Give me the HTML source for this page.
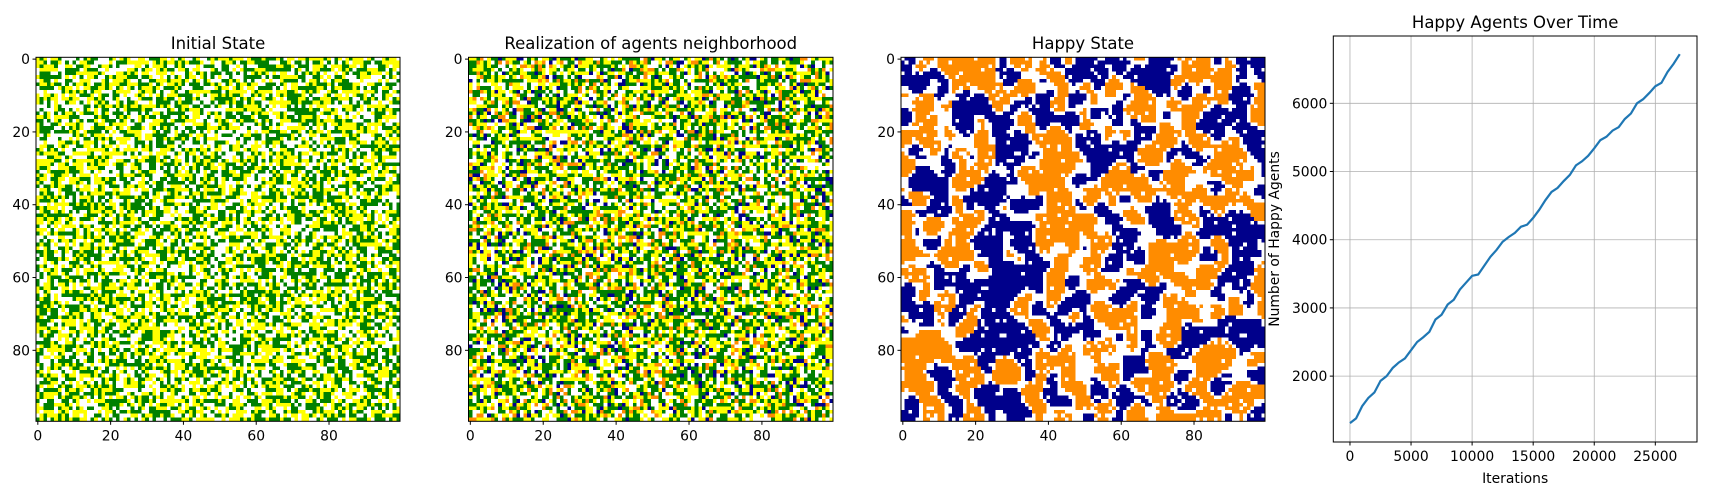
<!DOCTYPE html>
<html><head><meta charset="utf-8">
<style>
html,body{margin:0;padding:0;background:#fff;}
#wrap{position:relative;width:1710px;height:500px;overflow:hidden;font-family:"DejaVu Sans","Liberation Sans",sans-serif;}
canvas{position:absolute;image-rendering:pixelated;}
svg{position:absolute;left:0;top:0;}
</style></head>
<body>
<div id="wrap">
<canvas id="c1" width="100" height="100" style="left:36px;top:57.3px;width:364px;height:364px"></canvas>
<canvas id="c2" width="100" height="100" style="left:468.5px;top:57.3px;width:364.5px;height:364px"></canvas>
<canvas id="c3" width="100" height="100" style="left:901px;top:57.3px;width:364px;height:364px"></canvas>
<svg id="svg" width="1710" height="500"></svg>
</div>
<script>
// Line chart data
const iterations = [0,500,1000,1500,2000,2500,3000,3500,4000,4500,5000,5500,6000,6500,7000,7500,8000,8500,9000,9500,10000,10500,11000,11500,12000,12500,13000,13500,14000,14500,15000,15500,16000,16500,17000,17500,18000,18500,19000,19500,20000,20500,21000,21500,22000,22500,23000,23500,24000,24500,25000,25500,26000,26500,27000];
const happyCounts = [1310,1380,1560,1680,1760,1930,2000,2120,2200,2260,2380,2500,2570,2650,2830,2900,3050,3120,3270,3370,3470,3490,3620,3750,3850,3970,4040,4100,4190,4220,4320,4440,4580,4700,4760,4860,4950,5090,5150,5230,5340,5460,5510,5600,5650,5770,5850,6000,6060,6150,6250,6300,6460,6580,6720];
const xTicks = [0,5000,10000,15000,20000,25000];
const yTicks = [2000,3000,4000,5000,6000];
const gridTicks = [0,20,40,60,80];

const NS="http://www.w3.org/2000/svg";
const svg=document.getElementById('svg');
function mk(tag,attrs,parent){const e=document.createElementNS(NS,tag);for(const k in attrs)e.setAttribute(k,attrs[k]);(parent||svg).appendChild(e);return e;}

// seeded texture generator for grid cells
let seed=12345;function rnd(){seed=(seed*1103515245+12345)&0x7fffffff;return seed/0x7fffffff;}
function paint(id,fn){const c=document.getElementById(id).getContext('2d');for(let r=0;r<100;r++)for(let q=0;q<100;q++){c.fillStyle=fn(r,q);c.fillRect(q,r,1,1);}}
paint('c1',()=>{const v=rnd();return v<0.36?'#008000':v<0.7?'#ffff00':'#ffffff';});
paint('c2',()=>{const v=rnd();return v<0.32?'#008000':v<0.6?'#ffff00':v<0.69?'#ff8c00':v<0.77?'#00008b':'#ffffff';});
let f=[];for(let i=0;i<100;i++){f.push([]);for(let j=0;j<100;j++)f[i].push(rnd()-0.5);}
for(let p=0;p<4;p++){const g=[];for(let i=0;i<100;i++){g.push([]);for(let j=0;j<100;j++){let s=0,n=0;for(let di=-1;di<=1;di++)for(let dj=-1;dj<=1;dj++){const a=i+di,b=j+dj;if(a>=0&&a<100&&b>=0&&b<100){s+=f[a][b];n++;}}g[i].push(s/n);}}f=g;}
const all=[];for(let i=0;i<100;i++)for(let j=0;j<100;j++)all.push(f[i][j]);all.sort((a,b)=>a-b);
const tNavy=all[3600],tOrange=all[6000];
paint('c3',(r,q)=>{const v=f[r][q];if(rnd()<0.07)return '#ffffff';return v>tOrange?'#ff8c00':v<tNavy?'#00008b':'#ffffff';});

// grid panel axes
const panels=[{x:36,w:364,title:'Initial State',n:'initial'},{x:468.5,w:364.5,title:'Realization of agents neighborhood',n:'neighborhood'},{x:901,w:364,title:'Happy State',n:'happy'}];
const top0=57.3,h0=364;
panels.forEach(p=>{
  const fr=mk('rect',{x:p.x,y:top0,width:p.w,height:h0,fill:'none',stroke:'#000','stroke-width':1});
  
  const t=mk('text',{x:p.x+p.w/2,y:49,'text-anchor':'middle','font-size':16.5,fill:'#000'});t.textContent=p.title;
  
  const sx=i=>p.x+(i+0.5)*p.w/100, sy=i=>top0+(i+0.5)*h0/100;
  gridTicks.forEach(v=>{
    mk('line',{x1:sx(v),x2:sx(v),y1:top0+h0,y2:top0+h0+3.5,stroke:'#000'});
    const tx=mk('text',{x:sx(v),y:top0+h0+19,'text-anchor':'middle','font-size':13.9,fill:'#000'});tx.textContent=v;
    
    mk('line',{x1:p.x-3.5,x2:p.x,y1:sy(v),y2:sy(v),stroke:'#000'});
    const ty=mk('text',{x:p.x-6,y:sy(v)+5,'text-anchor':'end','font-size':13.9,fill:'#000'});ty.textContent=v;
    
  });
});

// line chart
const L=1333.3,R=1697,T=36,B=442;
const x0=-1365,x1=28413,y0=1034,y1=6987;
const X=v=>L+(v-x0)/(x1-x0)*(R-L), Y=v=>B-(v-y0)/(y1-y0)*(B-T);
xTicks.forEach(v=>{
  const g=mk('line',{x1:X(v),x2:X(v),y1:T,y2:B,stroke:'#b0b0b0','stroke-width':0.8});
  
  mk('line',{x1:X(v),x2:X(v),y1:B,y2:B+3.5,stroke:'#000'});
  const t=mk('text',{x:X(v),y:B+19,'text-anchor':'middle','font-size':13.9,fill:'#000'});t.textContent=v;
  
});
yTicks.forEach(v=>{
  const g=mk('line',{x1:L,x2:R,y1:Y(v),y2:Y(v),stroke:'#b0b0b0','stroke-width':0.8});
  
  mk('line',{x1:L-3.5,x2:L,y1:Y(v),y2:Y(v),stroke:'#000'});
  const t=mk('text',{x:L-6,y:Y(v)+5,'text-anchor':'end','font-size':13.9,fill:'#000'});t.textContent=v;
  
});
const line=mk('polyline',{points:iterations.map((v,i)=>X(v)+','+Y(happyCounts[i])).join(' '),fill:'none',stroke:'#1f77b4','stroke-width':2.2});

const fr4=mk('rect',{x:L,y:T,width:R-L,height:B-T,fill:'none',stroke:'#000','stroke-width':1});

const t4=mk('text',{x:(L+R)/2,y:28,'text-anchor':'middle','font-size':16.5,fill:'#000'});t4.textContent='Happy Agents Over Time';

const xl=mk('text',{x:(L+R)/2,y:483,'text-anchor':'middle','font-size':13.9,fill:'#000'});xl.textContent='Iterations';

const yl=mk('text',{x:0,y:0,'text-anchor':'middle','font-size':13.9,fill:'#000',transform:'translate(1279,239) rotate(-90)'});yl.textContent='Number of Happy Agents';

</script>
</body></html>
